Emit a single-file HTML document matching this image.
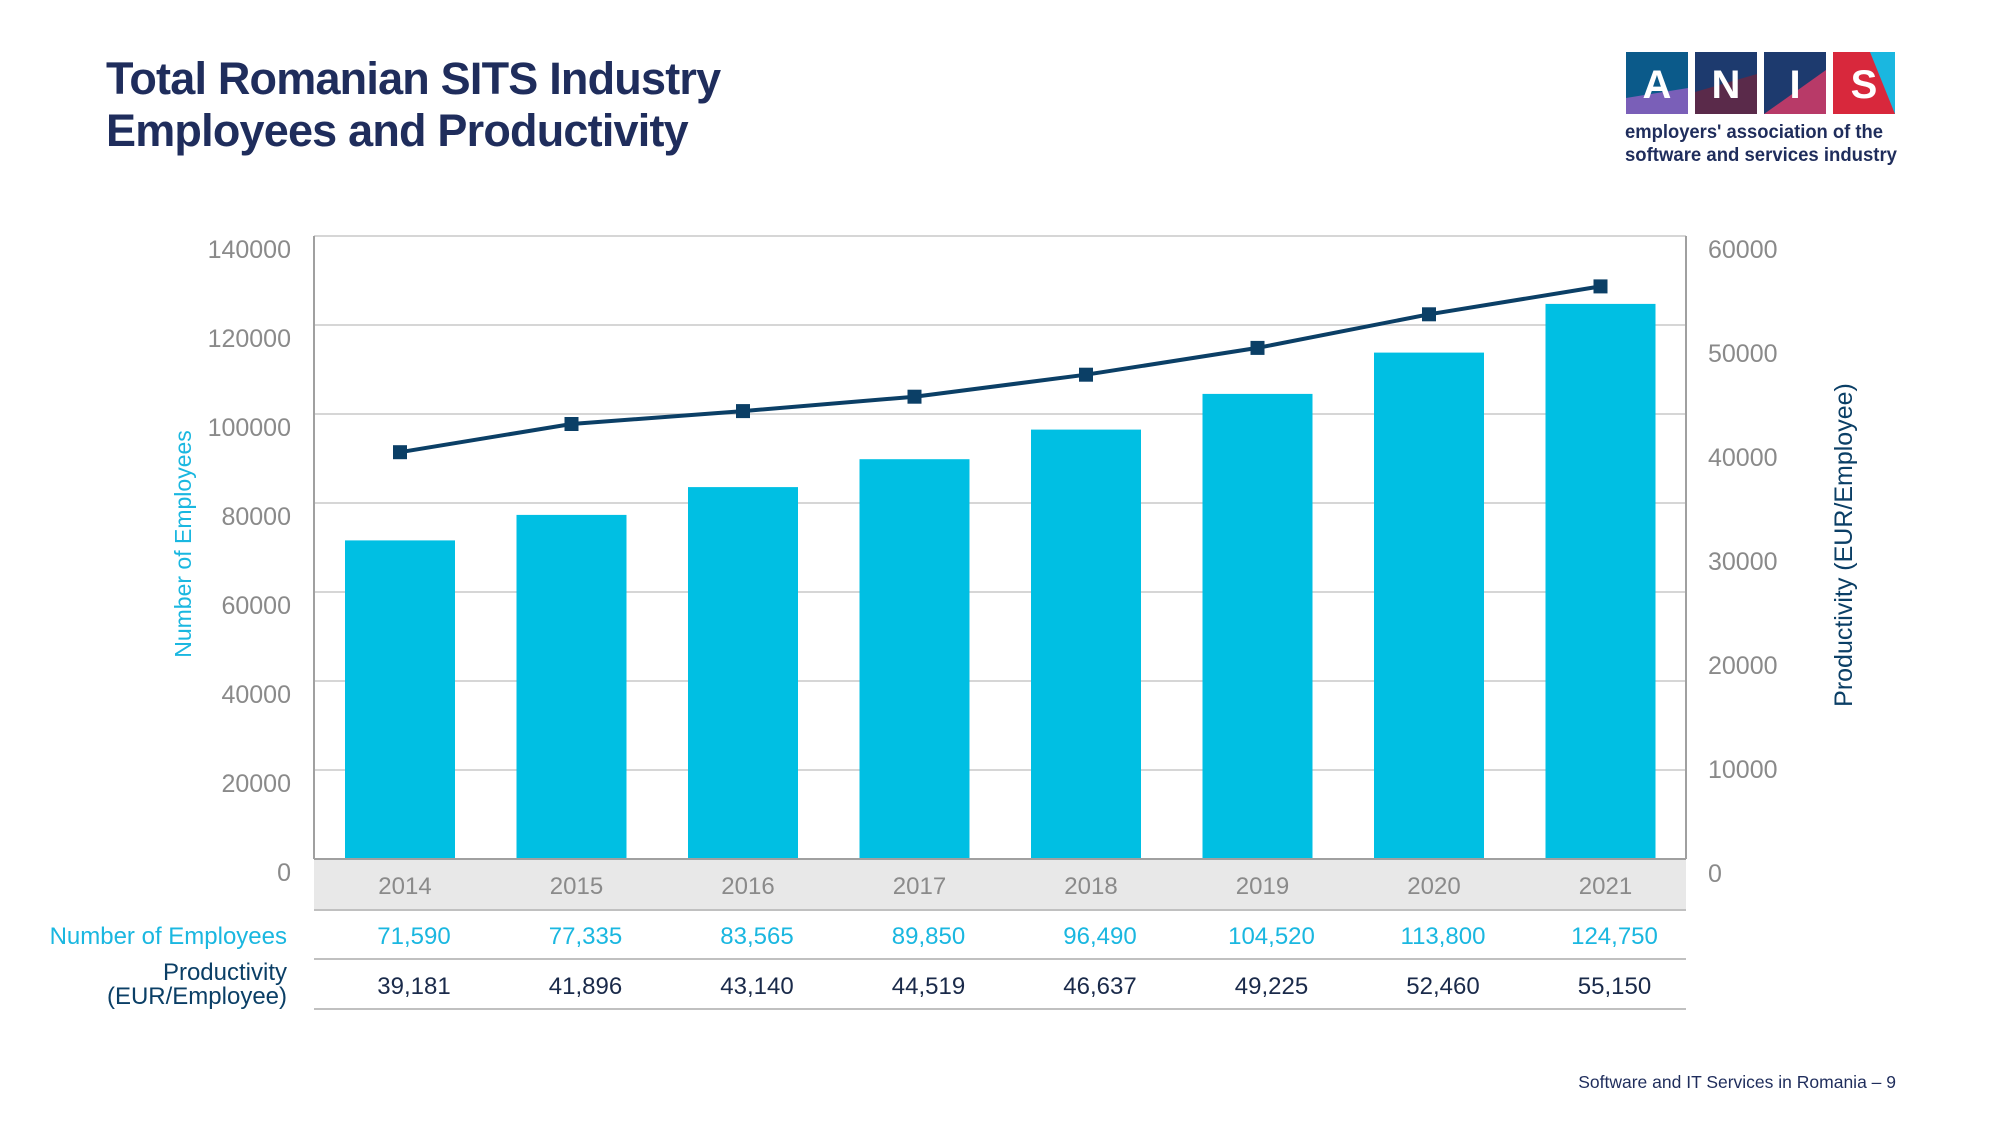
<!DOCTYPE html>
<html><head><meta charset="utf-8"><style>
body{margin:0;background:#fff;}
svg{display:block;font-family:"Liberation Sans",sans-serif;}
</style></head><body>
<svg width="2000" height="1125" viewBox="0 0 2000 1125">
<text x="106" y="94" font-size="45" font-weight="bold" fill="#1f2d5c" letter-spacing="-0.8">Total Romanian SITS Industry</text>
<text x="106" y="146" font-size="45" font-weight="bold" fill="#1f2d5c" letter-spacing="-0.8">Employees and Productivity</text>
<!-- logo -->
<rect x="1626" y="52" width="62" height="62" fill="#0b5a8a"/><polygon points="1626,114 1626,98 1688,88 1688,114" fill="#7a5fb8"/>
<rect x="1695" y="52" width="62" height="62" fill="#1d3a6e"/><polygon points="1695,114 1695,92 1757,74 1757,114" fill="#5a2a4a"/>
<rect x="1764" y="52" width="62" height="62" fill="#1d3a6e"/><polygon points="1764,114 1826,70 1826,114" fill="#b83a68"/>
<rect x="1833" y="52" width="62" height="62" fill="#1ab7e0"/><polygon points="1833,52 1870,52 1895,114 1833,114" fill="#d8283c"/>
<g font-size="40" font-weight="bold" fill="#fff" text-anchor="middle"><text x="1657" y="98">A</text><text x="1726" y="98">N</text><text x="1795" y="98">I</text><text x="1864" y="98">S</text></g>
<text x="1625" y="138" font-size="19" font-weight="bold" fill="#1f2d5c" textLength="258" lengthAdjust="spacingAndGlyphs">employers' association of the</text>
<text x="1625" y="161" font-size="19" font-weight="bold" fill="#1f2d5c" textLength="272" lengthAdjust="spacingAndGlyphs">software and services industry</text>
<!-- grid -->
<g stroke="#c8c8c8" stroke-width="1.5">
<line x1="314" y1="236" x2="1686" y2="236"/><line x1="314" y1="325" x2="1686" y2="325"/><line x1="314" y1="414" x2="1686" y2="414"/><line x1="314" y1="503" x2="1686" y2="503"/><line x1="314" y1="592" x2="1686" y2="592"/><line x1="314" y1="681" x2="1686" y2="681"/><line x1="314" y1="770" x2="1686" y2="770"/>
</g>
<rect x="314" y="859" width="1372" height="51" fill="#e8e8e8"/>
<g fill="#00bfe3">
<rect x="345" y="540.4" width="110" height="318.6"/><rect x="516.5" y="514.9" width="110" height="344.1"/><rect x="688" y="487.1" width="110" height="371.9"/><rect x="859.5" y="459.2" width="110" height="399.8"/><rect x="1031" y="429.6" width="110" height="429.4"/><rect x="1202.5" y="393.9" width="110" height="465.1"/><rect x="1374" y="352.6" width="110" height="506.4"/><rect x="1545.5" y="303.9" width="110" height="555.1"/>
</g>
<g stroke="#a0a0a0" stroke-width="2"><line x1="314" y1="236" x2="314" y2="859"/><line x1="1686" y1="236" x2="1686" y2="859"/><line x1="314" y1="859" x2="1686" y2="859"/></g>
<polyline fill="none" stroke="#0b3f66" stroke-width="4" points="400,452.2 571.5,424 743,411.1 914.5,396.7 1086,374.7 1257.5,347.9 1429,314.3 1600.5,286.4"/>
<g fill="#0b3f66">
<rect x="393" y="445.2" width="14" height="14"/><rect x="564.5" y="417" width="14" height="14"/><rect x="736" y="404.1" width="14" height="14"/><rect x="907.5" y="389.7" width="14" height="14"/><rect x="1079" y="367.7" width="14" height="14"/><rect x="1250.5" y="340.9" width="14" height="14"/><rect x="1422" y="307.3" width="14" height="14"/><rect x="1593.5" y="279.4" width="14" height="14"/>
</g>
<g font-size="25" fill="#8a8a8a" text-anchor="end">
<text x="291" y="258">140000</text><text x="291" y="347">120000</text><text x="291" y="436">100000</text><text x="291" y="525">80000</text><text x="291" y="614">60000</text><text x="291" y="703">40000</text><text x="291" y="792">20000</text><text x="291" y="881">0</text>
</g>
<g font-size="25" fill="#8a8a8a">
<text x="1708" y="258">60000</text><text x="1708" y="362">50000</text><text x="1708" y="466">40000</text><text x="1708" y="570">30000</text><text x="1708" y="674">20000</text><text x="1708" y="778">10000</text><text x="1708" y="882">0</text>
</g>
<text transform="translate(191,544) rotate(-90)" font-size="23" fill="#1ab7e0" text-anchor="middle">Number of Employees</text>
<text transform="translate(1852,545) rotate(-90)" font-size="25" fill="#0b3f66" text-anchor="middle">Productivity (EUR/Employee)</text>
<g font-size="24" fill="#8a8a8a" text-anchor="middle">
<text x="405" y="894">2014</text><text x="576.5" y="894">2015</text><text x="748" y="894">2016</text><text x="919.5" y="894">2017</text><text x="1091" y="894">2018</text><text x="1262.5" y="894">2019</text><text x="1434" y="894">2020</text><text x="1605.5" y="894">2021</text>
</g>
<g stroke="#c0c0c0" stroke-width="2"><line x1="314" y1="910" x2="1686" y2="910"/><line x1="314" y1="959" x2="1686" y2="959"/><line x1="314" y1="1009" x2="1686" y2="1009"/></g>
<g font-size="24" fill="#1ab7e0" text-anchor="middle">
<text x="414" y="944">71,590</text><text x="585.5" y="944">77,335</text><text x="757" y="944">83,565</text><text x="928.5" y="944">89,850</text><text x="1100" y="944">96,490</text><text x="1271.5" y="944">104,520</text><text x="1443" y="944">113,800</text><text x="1614.5" y="944">124,750</text>
</g>
<g font-size="24" fill="#1a2a4a" text-anchor="middle">
<text x="414" y="994">39,181</text><text x="585.5" y="994">41,896</text><text x="757" y="994">43,140</text><text x="928.5" y="994">44,519</text><text x="1100" y="994">46,637</text><text x="1271.5" y="994">49,225</text><text x="1443" y="994">52,460</text><text x="1614.5" y="994">55,150</text>
</g>
<text x="287" y="944" font-size="24" fill="#1ab7e0" text-anchor="end">Number of Employees</text>
<text x="287" y="980" font-size="24" fill="#0b3f66" text-anchor="end">Productivity</text>
<text x="287" y="1004" font-size="24" fill="#0b3f66" text-anchor="end">(EUR/Employee)</text>
<text x="1896" y="1088" font-size="17.5" fill="#1f2d5c" text-anchor="end">Software and IT Services in Romania – 9</text>
</svg>
</body></html>
